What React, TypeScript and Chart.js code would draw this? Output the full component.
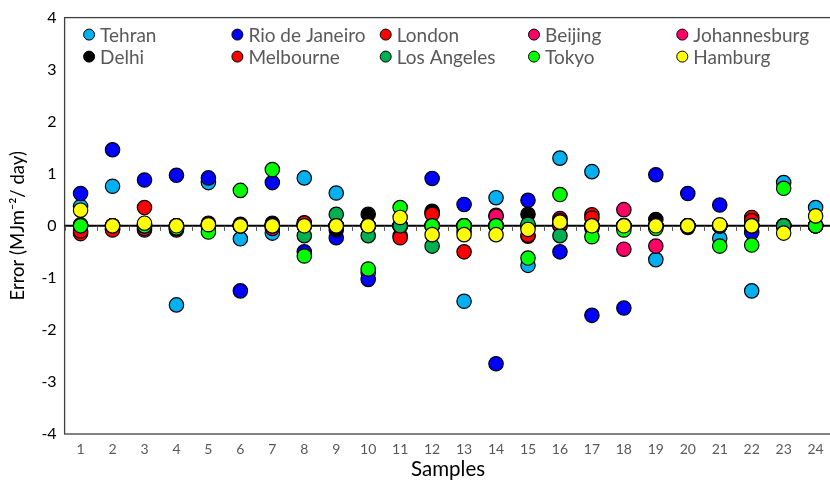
import { useEffect, useRef } from 'react';
import { Chart, registerables } from 'chart.js';

Chart.register(...registerables);

const samples = [1, 2, 3, 4, 5, 6, 7, 8, 9, 10, 11, 12, 13, 14, 15, 16, 17, 18, 19, 20, 21, 22, 23, 24];
const yTicks = [-4, -3, -2, -1, 0, 1, 2, 3, 4];

const tehran = [0.37, 0.76, 0.02, -1.52, 0.83, -0.25, -0.14, 0.92, 0.63, -0.9, 0.0, 0.0, -1.45, 0.54, -0.76, 1.3, 1.04, 0.0, -0.65, 0.0, -0.24, -1.25, 0.83, 0.35];
const rio = [0.62, 1.46, 0.88, 0.97, 0.92, -1.25, 0.83, -0.5, -0.23, -1.03, 0.0, 0.91, 0.41, -2.65, 0.49, -0.5, -1.72, -1.58, 0.98, 0.62, 0.4, -0.13, 0.0, 0.0];
const london = [-0.15, -0.05, 0.35, -0.08, 0.0, 0.0, 0.0, 0.03, 0.0, 0.0, -0.19, 0.25, -0.5, 0.0, -0.2, 0.05, 0.21, 0.0, 0.0, 0.0, 0.0, 0.16, 0.0, 0.0];
const beijing = [0.0, -0.06, -0.08, 0.0, 0.0, 0.0, -0.05, 0.06, 0.0, 0.0, 0.0, 0.0, 0.0, 0.2, 0.0, 0.14, -0.05, 0.31, 0.0, 0.0, 0.0, 0.0, 0.0, 0.0];
const johannesburg = [0.0, 0.0, -0.05, 0.0, 0.0, 0.0, 0.0, 0.0, 0.0, 0.0, 0.0, 0.0, 0.0, 0.18, 0.0, 0.1, 0.0, -0.45, -0.39, 0.0, 0.0, 0.0, 0.0, 0.0];
const delhi = [0.02, 0.0, 0.0, 0.0, 0.05, 0.03, 0.05, 0.0, -0.08, 0.22, 0.0, 0.28, -0.1, 0.0, 0.22, 0.0, 0.0, 0.0, 0.12, -0.03, 0.0, 0.0, 0.0, 0.0];
const melbourne = [-0.1, -0.08, 0.0, -0.05, 0.0, 0.0, 0.0, 0.05, 0.0, 0.0, -0.23, 0.22, 0.0, 0.0, -0.18, 0.0, 0.15, 0.0, 0.0, 0.0, 0.0, 0.1, 0.0, 0.0];
const losAngeles = [0.0, 0.0, 0.0, -0.05, 0.0, 0.0, 0.0, -0.19, 0.22, -0.19, 0.0, -0.39, 0.0, 0.0, 0.03, -0.19, 0.0, 0.0, 0.0, 0.0, 0.0, 0.0, 0.0, 0.0];
const tokyo = [0.0, 0.0, 0.0, -0.04, -0.12, 0.68, 1.08, -0.58, 0.0, -0.83, 0.35, 0.0, 0.0, 0.0, -0.62, 0.6, -0.21, -0.08, -0.05, 0.0, -0.39, -0.37, 0.72, 0.0];
const hamburg = [0.3, 0.0, 0.05, 0.0, 0.02, 0.0, 0.0, 0.0, 0.0, 0.0, 0.16, -0.17, -0.17, -0.17, -0.07, 0.07, 0.0, 0.0, 0.0, 0.0, 0.02, 0.0, -0.14, 0.19];

const seriesNames = ['Tehran', 'Rio de Janeiro', 'London', 'Beijing', 'Johannesburg', 'Delhi', 'Melbourne', 'Los Angeles', 'Tokyo', 'Hamburg'];
const seriesValues = [tehran, rio, london, beijing, johannesburg, delhi, melbourne, losAngeles, tokyo, hamburg];
const seriesColors = ['#00B0F0', '#0000FF', '#FF0000', '#FF0066', '#FF0066', '#000000', '#FF0000', '#00B050', '#00FF00', '#FFFF00'];

const FONT = "Lato, 'Open Sans', sans-serif";

const framePlugin = {
  id: 'frame',
  beforeDatasetsDraw(chart: any) {
    const { ctx, chartArea: a, scales } = chart;
    const x = scales.x;
    const y = scales.y;
    ctx.save();
    ctx.strokeStyle = '#404040';
    ctx.lineWidth = 1.3;
    ctx.strokeRect(a.left, a.top, a.right - a.left, a.bottom - a.top);
    const y0 = y.getPixelForValue(0);
    ctx.strokeStyle = '#000000';
    ctx.lineWidth = 2;
    ctx.beginPath();
    ctx.moveTo(a.left, y0);
    ctx.lineTo(a.right, y0);
    ctx.stroke();
    ctx.strokeStyle = '#595959';
    ctx.lineWidth = 1;
    for (let i = 0; i <= samples.length; i++) {
      const px = Math.round(x.getPixelForValue(samples[0] - 0.5 + i)) + 0.5;
      ctx.beginPath();
      ctx.moveTo(px, y0);
      ctx.lineTo(px, y0 + 5);
      ctx.stroke();
    }
    ctx.restore();
  },
};

const legendPlugin = {
  id: 'customLegend',
  afterDraw(chart: any) {
    const { ctx, chartArea: a } = chart;
    const cols = 5;
    const colW = 148.3;
    const x0 = a.left + 24.5;
    const rowY = [a.top + 17, a.top + 39];
    ctx.save();
    ctx.font = `19px ${FONT}`;
    ctx.textBaseline = 'middle';
    ctx.textAlign = 'left';
    chart.data.datasets.forEach((ds: any, i: number) => {
      const cx = x0 + (i % cols) * colW;
      const cy = rowY[Math.floor(i / cols)];
      ctx.beginPath();
      ctx.arc(cx, cy, 5.5, 0, Math.PI * 2);
      ctx.fillStyle = ds.backgroundColor;
      ctx.fill();
      ctx.lineWidth = 1;
      ctx.strokeStyle = '#000000';
      ctx.stroke();
      ctx.fillStyle = '#595959';
      ctx.fillText(ds.label, cx + 11, cy + 1);
    });
    ctx.restore();
  },
};

export default function App() {
  const canvasRef = useRef<HTMLCanvasElement | null>(null);

  useEffect(() => {
    if (!canvasRef.current) return;
    const n = seriesNames.length;
    const chart = new Chart(canvasRef.current, {
      type: 'scatter',
      data: {
        datasets: seriesNames.map((name, i) => ({
          label: name,
          data: samples.map((s, j) => ({ x: s, y: seriesValues[i][j] })),
          backgroundColor: seriesColors[i],
          borderColor: '#000000',
          pointRadius: 7.2,
          pointHoverRadius: 7.2,
          pointBorderWidth: 1.2,
          order: n - i,
        })),
      },
      options: {
        animation: false,
        responsive: false,
        events: [],
        layout: { padding: { top: 16, right: 1.4, left: 0, bottom: 0 } },
        plugins: {
          legend: { display: false },
          tooltip: { enabled: false },
        },
        scales: {
          x: {
            type: 'linear',
            min: samples[0] - 0.5,
            max: samples[samples.length - 1] + 0.5,
            grid: { display: false, drawTicks: false },
            border: { display: false },
            afterBuildTicks: (axis: any) => {
              axis.ticks = samples.map((s) => ({ value: s }));
            },
            afterFit: (axis: any) => {
              axis.height = 50;
            },
            ticks: {
              padding: 7,
              color: '#595959',
              font: { family: FONT, size: 14 },
              maxRotation: 0,
              autoSkip: false,
              callback: (v: any) => String(v),
            },
            title: {
              display: true,
              text: 'Samples',
              color: '#000000',
              font: { family: FONT, size: 20.5 },
              padding: { top: 0, bottom: 2 },
            },
          },
          y: {
            type: 'linear',
            min: yTicks[0],
            max: yTicks[yTicks.length - 1],
            grid: { display: false, drawTicks: false },
            border: { display: false },
            afterBuildTicks: (axis: any) => {
              axis.ticks = yTicks.map((v) => ({ value: v }));
            },
            afterFit: (axis: any) => {
              axis.width = 64.6;
            },
            ticks: {
              padding: 8,
              color: '#000000',
              font: { family: FONT, size: 16 },
              callback: (v: any) => String(v),
            },
            title: {
              display: true,
              text: 'Error (MJm⁻²/ day)',
              color: '#000000',
              font: { family: FONT, size: 18.5 },
              padding: { top: 7, bottom: 0 },
            },
          },
        },
      },
      plugins: [framePlugin, legendPlugin],
    } as any);
    return () => chart.destroy();
  }, []);

  return (
    <div style={{ position: 'fixed', left: 0, top: 0, width: 830, height: 484, overflow: 'hidden', background: '#ffffff' }}>
      <canvas ref={canvasRef} width={840} height={484} style={{ width: 840, height: 484, display: 'block' }} />
    </div>
  );
}
